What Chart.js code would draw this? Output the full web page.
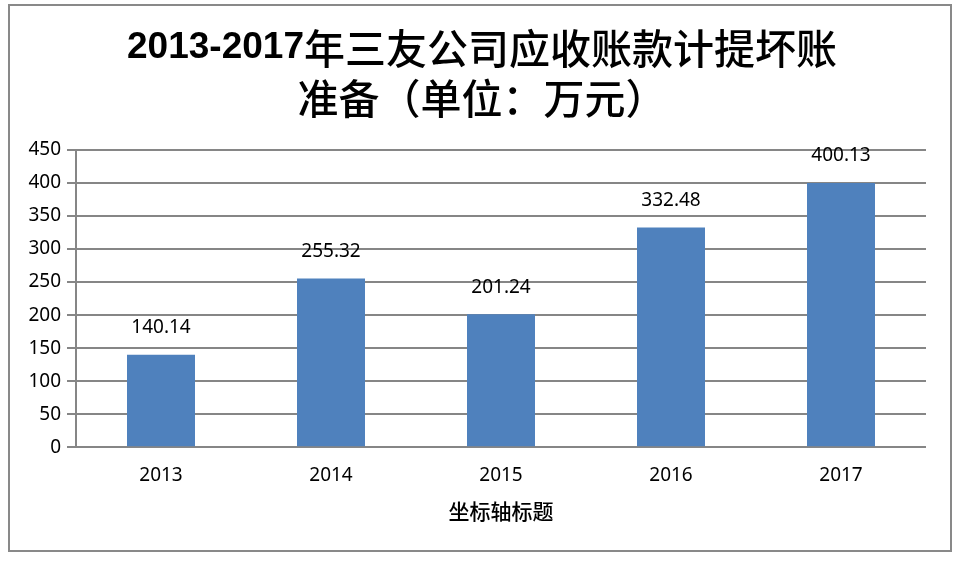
<!DOCTYPE html>
<html>
<head>
<meta charset="utf-8">
<script src="https://cdn.jsdelivr.net/npm/chart.js@4"></script>
<style>
  html, body { margin: 0; padding: 0; background: #fff; }
  #wrap { width: 970px; height: 572px; }
</style>
</head>
<body>
<div id="wrap"><canvas id="chart" width="970" height="572"></canvas></div>
<script>
const categories = ['2013', '2014', '2015', '2016', '2017'];
const values = [140.14, 255.32, 201.24, 332.48, 400.13];
const titleLines = ['2013-2017年三友公司应收账款计提坏账', '准备（单位：万元）'];
const xAxisTitle = '坐标轴标题';

// gray frame round the whole chart
const framePlugin = {
  id: 'frame',
  afterDraw(chart) {
    const ctx = chart.ctx;
    ctx.save();
    ctx.strokeStyle = '#898989';
    ctx.lineWidth = 2;
    ctx.strokeRect(9, 5, 942, 546);
    ctx.restore();
  }
};

// title: latin digits in bold, CJK a bit lighter, like the original
const titlePlugin = {
  id: 'mixedTitle',
  afterDraw(chart) {
    const ctx = chart.ctx;
    const latin = 'bold 37px "Liberation Sans", sans-serif';
    const cjk = '500 41px "Noto Sans CJK SC", sans-serif';
    const cx = 482;
    ctx.save();
    ctx.fillStyle = '#000';
    ctx.textBaseline = 'middle';
    titleLines.forEach((line, li) => {
      const runs = line.match(/[\x00-\x7f]+|[^\x00-\x7f]+/g);
      let total = 0;
      runs.forEach(r => {
        ctx.font = /^[\x00-\x7f]/.test(r) ? latin : cjk;
        total += ctx.measureText(r).width;
      });
      let x = cx - total / 2;
      const y = 48 + li * 50;
      runs.forEach(r => {
        ctx.font = /^[\x00-\x7f]/.test(r) ? latin : cjk;
        ctx.fillText(r, x, y);
        x += ctx.measureText(r).width;
      });
    });
    ctx.restore();
  }
};

// value labels above bars and the x axis title
const valueLabels = {
  id: 'valueLabels',
  afterDatasetsDraw(chart) {
    const ctx = chart.ctx;
    const meta = chart.getDatasetMeta(0);
    ctx.save();
    ctx.font = '19px "Noto Sans", sans-serif';
    ctx.fillStyle = '#000';
    ctx.textAlign = 'center';
    ctx.textBaseline = 'middle';
    meta.data.forEach((bar, i) => {
      ctx.fillText(values[i].toFixed(2), bar.x, bar.y - 27);
    });
    const area = chart.chartArea;
    ctx.font = '500 21px "Noto Sans CJK SC", sans-serif';
    ctx.fillText(xAxisTitle, (area.left + area.right) / 2, area.bottom + 64);
    ctx.restore();
  }
};

new Chart(document.getElementById('chart'), {
  type: 'bar',
  data: {
    labels: categories,
    datasets: [{
      data: values,
      backgroundColor: '#4F81BD',
      barPercentage: 0.8,
      categoryPercentage: 0.5
    }]
  },
  options: {
    responsive: false,
    animation: false,
    layout: { padding: { left: 20, right: 44, top: 150, bottom: 68 } },
    scales: {
      x: {
        grid: { display: false, drawTicks: false },
        border: { display: false },
        ticks: { color: '#000', font: { family: '"Noto Sans", sans-serif', size: 19 }, padding: 17 }
      },
      y: {
        min: 0,
        max: 450,
        ticks: { stepSize: 50, color: '#000', font: { family: '"Noto Sans", sans-serif', size: 19 }, padding: 6 },
        grid: { color: '#868686', lineWidth: 2, tickLength: 9 },
        border: { color: '#868686', width: 2 },
        afterFit(scale) { scale.width = 56; }
      }
    },
    plugins: {
      legend: { display: false },
      tooltip: { enabled: false },
      title: { display: false }
    }
  },
  plugins: [framePlugin, titlePlugin, valueLabels]
});
</script>
</body>
</html>
